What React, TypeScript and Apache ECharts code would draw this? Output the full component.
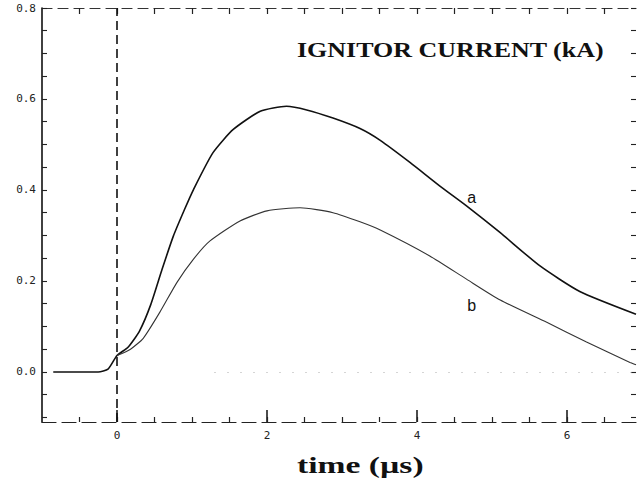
import { useEffect, useRef } from "react";
import * as echarts from "echarts";

// Curve a: ignitor current (kA) vs time (µs)
const timeA = [-0.85, -0.25, -0.12, 0, 0.15, 0.3, 0.45, 0.6, 0.75, 0.9, 1.02, 1.28, 1.55, 1.91, 2.26, 2.53, 2.88, 3.24, 3.51, 3.91, 4.31, 4.66, 5.11, 5.64, 6.17, 6.92];
const currentA = [0, 0, 0.006, 0.036, 0.055, 0.09, 0.148, 0.225, 0.298, 0.357, 0.401, 0.482, 0.533, 0.573, 0.584, 0.576, 0.558, 0.535, 0.509, 0.46, 0.408, 0.365, 0.306, 0.233, 0.177, 0.127];

// Curve b
const timeB = [0, 0.18, 0.35, 0.57, 0.8, 1.02, 1.24, 1.64, 2.0, 2.44, 2.88, 3.24, 3.51, 4.17, 4.66, 5.11, 5.73, 6.26, 6.84, 6.92];
const currentB = [0.036, 0.05, 0.074, 0.131, 0.197, 0.248, 0.288, 0.332, 0.354, 0.361, 0.35, 0.33, 0.312, 0.255, 0.204, 0.158, 0.109, 0.066, 0.021, 0.016];

// Axis ticks and labels
const xMajorTicks = [0, 2, 4, 6];
const xMinorTicks = [-0.5, 0, 0.5, 1, 1.5, 2, 2.5, 3, 3.5, 4, 4.5, 5, 5.5, 6, 6.5];
const yLabelTicks = [0, 0.2, 0.4, 0.6, 0.8];
const yMinorTicks = [-0.1, -0.05, 0, 0.05, 0.1, 0.15, 0.2, 0.25, 0.3, 0.35, 0.4, 0.45, 0.5, 0.55, 0.6, 0.65, 0.7, 0.75, 0.8];

const titleText = "IGNITOR CURRENT (kA)";
const xAxisTitle = "time (\u00b5s)";
const curveLabelA = { name: "a", time: 4.73, current: 0.384 };
const curveLabelB = { name: "b", time: 4.73, current: 0.145 };

const X_MIN = -1;
const X_MAX = 6.92;
const Y_MIN = -0.11;
const Y_MAX = 0.8;

const monoFont = '"DejaVu Sans Mono", monospace';
const serifFont = '"Liberation Serif", "Times New Roman", serif';

export default function App() {
  const ref = useRef<HTMLDivElement>(null);

  useEffect(() => {
    const chart = echarts.init(ref.current!, null, { renderer: "svg" });
    const pairs = (xs: number[], ys: number[]) => xs.map((x, i) => [x, ys[i]]);

    const labelPoint = (l: { name: string; time: number; current: number }) => ({
      coord: [l.time, l.current],
      symbol: "circle",
      symbolSize: 1,
      itemStyle: { color: "rgba(0,0,0,0)" },
      label: {
        show: true,
        position: "inside",
        formatter: l.name,
        color: "#111",
        fontSize: 16,
        fontFamily: '"Liberation Sans", Arial, sans-serif',
      },
    });

    chart.setOption({
      animation: false,
      backgroundColor: "#fff",
      grid: { left: 42, right: 2, top: 8, bottom: 63, containLabel: false },
      xAxis: [
        {
          type: "value",
          position: "bottom",
          min: X_MIN,
          max: X_MAX,
          axisLine: { show: true, onZero: false, lineStyle: { color: "#222", width: 1.2, type: [14, 6] } },
          axisTick: { show: true, inside: true, length: 12, customValues: xMajorTicks, lineStyle: { color: "#111", width: 1.5 } },
          axisLabel: {
            show: true,
            customValues: xMajorTicks,
            formatter: (v: number) => String(v),
            margin: 8,
            fontFamily: monoFont,
            fontSize: 11,
            color: "#222",
          },
          splitLine: { show: false },
        },
        {
          type: "value",
          position: "bottom",
          min: X_MIN,
          max: X_MAX,
          axisLine: { show: false, onZero: false },
          axisTick: { show: true, inside: true, length: 5, customValues: xMinorTicks, lineStyle: { color: "#222", width: 1.2 } },
          axisLabel: { show: false },
          splitLine: { show: false },
        },
        {
          type: "value",
          position: "top",
          min: X_MIN,
          max: X_MAX,
          axisLine: { show: true, onZero: false, lineStyle: { color: "#333", width: 1.2, type: [10, 6] } },
          axisTick: { show: true, inside: true, length: 6, customValues: xMinorTicks, lineStyle: { color: "#222", width: 1.2 } },
          axisLabel: { show: false },
          splitLine: { show: false },
        },
      ],
      yAxis: [
        {
          type: "value",
          position: "left",
          min: Y_MIN,
          max: Y_MAX,
          axisLine: { show: true, onZero: false, lineStyle: { color: "#111", width: 1.6 } },
          axisTick: { show: true, inside: true, length: 5, customValues: yMinorTicks, lineStyle: { color: "#222", width: 1.1 } },
          axisLabel: {
            show: true,
            customValues: yLabelTicks,
            formatter: (v: number) => v.toFixed(1),
            margin: 6,
            fontFamily: monoFont,
            fontSize: 11,
            color: "#222",
          },
          splitLine: { show: false },
        },
        {
          type: "value",
          position: "right",
          min: Y_MIN,
          max: Y_MAX,
          axisLine: { show: false, onZero: false },
          axisTick: { show: true, inside: true, length: 5, customValues: yMinorTicks, lineStyle: { color: "#222", width: 1.1 } },
          axisLabel: { show: false },
          splitLine: { show: false },
        },
      ],
      series: [
        {
          name: "a",
          type: "line",
          data: pairs(timeA, currentA),
          showSymbol: false,
          smooth: 0.2,
          lineStyle: { color: "#111", width: 1.6 },
          markLine: {
            silent: true,
            symbol: "none",
            label: { show: false },
            data: [
              { xAxis: 0, lineStyle: { color: "#111", width: 1.6, type: [9, 5] } },
              [
                { coord: [1.3, 0], lineStyle: { color: "#aaa", width: 1, type: [1, 12] } },
                { coord: [X_MAX, 0] },
              ],
            ],
          },
          markPoint: { silent: true, data: [labelPoint(curveLabelA)] },
        },
        {
          name: "b",
          type: "line",
          data: pairs(timeB, currentB),
          showSymbol: false,
          smooth: 0.2,
          lineStyle: { color: "#333", width: 1.1 },
          markPoint: { silent: true, data: [labelPoint(curveLabelB)] },
        },
      ],
      graphic: [
        {
          type: "text",
          x: 297,
          y: 50,
          scaleX: 1.3,
          style: {
            text: titleText,
            fontFamily: serifFont,
            fontWeight: "bold",
            fontSize: 20,
            fill: "#111",
            align: "left",
            verticalAlign: "middle",
          },
        },
        {
          type: "text",
          x: 297,
          y: 465,
          scaleX: 1.4,
          style: {
            text: xAxisTitle,
            fontFamily: serifFont,
            fontWeight: "bold",
            fontSize: 24,
            fill: "#111",
            align: "left",
            verticalAlign: "middle",
          },
        },
      ],
    });

    return () => chart.dispose();
  }, []);

  return (
    <div
      ref={ref}
      style={{ position: "fixed", left: 0, top: 0, width: 638, height: 485, background: "#fff" }}
    />
  );
}
